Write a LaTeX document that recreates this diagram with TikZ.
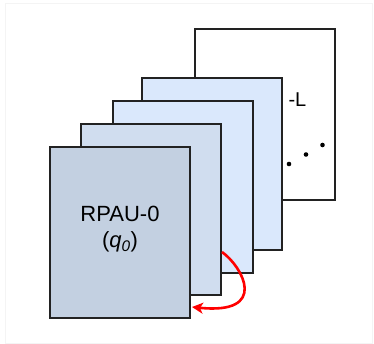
\documentclass[tikz,border=0pt]{standalone}
\usepackage{fontspec}
\setmainfont{Liberation Sans}
\usetikzlibrary{arrows.meta,calc}

\definecolor{layerA}{RGB}{195,208,225}
\definecolor{layerB}{RGB}{208,221,239}
\definecolor{layerC}{RGB}{218,232,252}
\definecolor{edgegray}{RGB}{34,34,34}
\definecolor{framegray}{RGB}{244,244,244}

\tikzset{
  layer/.style={draw=edgegray, line width=1.8pt, inner sep=0pt,
    minimum width=140.2pt, minimum height=171.2pt},
  unitlabel/.style={font=\fontsize{22}{26}\selectfont, align=center, inner sep=0pt},
  dotmark/.style={fill=black, draw=none, circle, minimum size=4.6pt, inner sep=0pt},
  feedback/.style={draw=red, line width=2.6pt,
    -{Stealth[length=11pt,width=11pt,inset=3pt]}}
}

\begin{document}
\begin{tikzpicture}[x=1pt,y=-1pt]
  \useasboundingbox (0,0) rectangle (374,344);
  \fill[white] (0,0) rectangle (374,344);
  \draw[framegray, line width=0.6pt] (5.5,3.5) rectangle (372.5,343.5);

  % stack of processing units, back to front
  \node[layer, fill=white] (bL) at (265,114.5) {};
  \node[anchor=base east, inner sep=0pt, font=\fontsize{20}{24}\selectfont] (tL) at (306.5,107) {-L};
  \node[dotmark] (d1) at (289,164) {};
  \node[dotmark] (d2) at (306,154.5) {};
  \node[dotmark] (d3) at (322.5,145) {};

  \node[layer, fill=layerC] (b4) at (212,164) {};
  \node[layer, fill=layerC] (b3) at (183,187) {};
  \node[layer, fill=layerB] (b2) at (151,209.5) {};
  \node[layer, fill=layerA] (b1) at (120,232.5) {};
  \node[unitlabel] (t1) at (120,229.5) {RPAU-0\\(\textit{q\textsubscript{0}})};

  % feedback from the second unit back into the first
  \coordinate (fs) at ([yshift=44pt]b2.south east);
  \coordinate (fe) at ([yshift=12pt,xshift=1pt]b1.south east);
  \draw[feedback] (fs) .. controls ($(fs)+(21,15)$) and ($(fe)+(77,8)$) .. (fe);
\end{tikzpicture}
\end{document}
